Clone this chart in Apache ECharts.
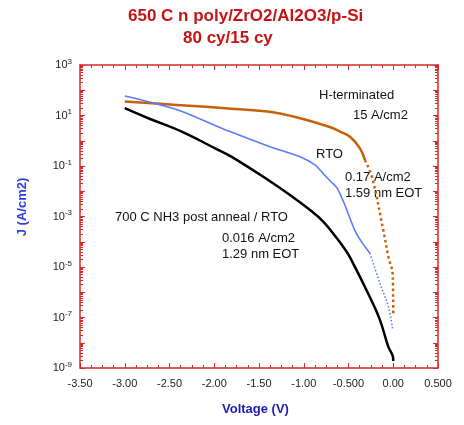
<!DOCTYPE html>
<html>
<head>
<meta charset="utf-8">
<script src="https://cdn.jsdelivr.net/npm/echarts@6/dist/echarts.min.js"></script>
<style>
  html, body { margin: 0; padding: 0; background: #fff; }
  #chart { width: 464px; height: 425px; }
</style>
</head>
<body>
<div id="chart"></div>
<script>
// H-terminated (orange)
const hV = [-3.0, -2.42, -1.77, -1.38, -1.04, -0.71, -0.595, -0.483, -0.372, -0.316, -0.237, -0.111, -0.055, -0.006, 0.0];
const hJ = [35.5, 26.3, 18.2, 14.1, 7.8, 3.5, 2.3, 1.45, 0.5, 0.17, 0.036, 2.9e-4, 2.6e-5, 4.8e-6, 1.3e-7];
const hTail = 9;

// RTO (blue)
const rV = [-3.0, -2.737, -2.44, -2.178, -1.824, -1.377, -1.042, -0.874, -0.818, -0.707, -0.632, -0.595, -0.539, -0.502, -0.408, -0.26, -0.148, -0.055, -0.006];
const rJ = [59, 35, 18, 7.8, 2.3, 0.58, 0.23, 0.11, 0.069, 0.026, 0.014, 7.9e-3, 2.8e-3, 1.26e-3, 2.0e-4, 3.5e-5, 2.2e-6, 2.7e-7, 3.2e-8];
const rTail = 15;

// 700 C NH3 post anneal / RTO (black)
const nV = [-3.0, -2.737, -2.364, -1.99, -1.805, -1.377, -1.154, -0.93, -0.782, -0.632, -0.539, -0.483, -0.26, -0.148, -0.055, -0.006, 0.0];
const nJ = [19.5, 7.8, 2.3, 0.5, 0.23, 0.025, 7.1e-3, 1.8e-3, 6.3e-4, 1.4e-4, 5.0e-5, 2.4e-5, 6.3e-7, 7.9e-8, 6.9e-9, 3.0e-9, 1.9e-9];

const notes = [
  ["H-terminated", 319, 95],
  ["15 A/cm2", 353, 115],
  ["RTO", 316, 154],
  ["0.17 A/cm2", 345, 177],
  ["1.59 nm EOT", 345, 193],
  ["700 C NH3 post anneal / RTO", 115, 217],
  ["0.016 A/cm2", 222, 238],
  ["1.29 nm EOT", 222, 254]
];

const red = "#d42a2a";
const font = "Liberation Sans, Arial, sans-serif";

function pairs(v, j, a, b) {
  return v.slice(a, b).map((x, i) => [x, j.slice(a, b)[i]]);
}

function xAxisCfg(pos, showLabels) {
  return {
    type: "value", position: pos, min: -3.5, max: 0.5, interval: 0.5,
    axisLine: { show: true, onZero: false, lineStyle: { color: red, width: 1.5 } },
    axisTick: { show: true, inside: true, length: 5, lineStyle: { color: red } },
    minorTick: { show: true, splitNumber: 4, length: 3, lineStyle: { color: red } },
    splitLine: { show: false },
    axisLabel: {
      show: showLabels, color: "#222", fontSize: 11, fontFamily: font, margin: 10,
      formatter: v => v === 0 ? "0.00" : (Math.abs(v) < 1 ? v.toFixed(3) : v.toFixed(2))
    }
  };
}

function yAxisCfg(pos, showLabels) {
  return {
    type: "log", logBase: 10, position: pos, min: 1e-9, max: 1e3, interval: 1,
    axisLine: { show: true, onZero: false, lineStyle: { color: red, width: 1.5 } },
    axisTick: { show: true, inside: true, length: 5, lineStyle: { color: red } },
    minorTick: { show: true, splitNumber: 9, length: 3, lineStyle: { color: red } },
    splitLine: { show: false },
    axisLabel: {
      show: showLabels, fontFamily: font, margin: 8,
      formatter: v => {
        const e = Math.round(Math.log10(v));
        return (e % 2 !== 0) ? "{b|10}{s|" + e + "}" : "";
      },
      rich: {
        b: { fontSize: 11, color: "#222", fontFamily: font },
        s: { fontSize: 8, color: "#222", fontFamily: font, padding: [0, 0, 7, 0] }
      }
    }
  };
}

const line = { type: "line", smooth: 0.4, showSymbol: false };

const chart = echarts.init(document.getElementById("chart"));
chart.setOption({
  backgroundColor: "#fff",
  animation: false,
  grid: { left: 80, right: 26, top: 65, bottom: 57 },
  xAxis: [xAxisCfg("bottom", true), xAxisCfg("top", false)],
  yAxis: [yAxisCfg("left", true), yAxisCfg("right", false)],
  series: [
    Object.assign({}, line, { data: pairs(hV, hJ, 0, hTail + 1),
      lineStyle: { color: "#c8600a", width: 2.5 } }),
    Object.assign({}, line, { data: pairs(hV, hJ, hTail, hV.length),
      lineStyle: { color: "#c8600a", width: 2.5, type: [2.5, 3] } }),
    Object.assign({}, line, { data: pairs(rV, rJ, 0, rTail + 1),
      lineStyle: { color: "#5b7cf5", width: 1.6 } }),
    Object.assign({}, line, { data: pairs(rV, rJ, rTail, rV.length),
      lineStyle: { color: "#5b7cf5", width: 1.6, type: [1.5, 2] } }),
    Object.assign({}, line, { data: pairs(nV, nJ, 0, nV.length),
      lineStyle: { color: "#000", width: 2.5 } })
  ],
  graphic: [
    { type: "text", left: 128, top: 8, style: { text: "650 C n poly/ZrO2/Al2O3/p-Si", font: "bold 17px " + font, fill: "#c41414" } },
    { type: "text", left: 183, top: 30, style: { text: "80 cy/15 cy", font: "bold 17px " + font, fill: "#c41414" } },
    { type: "text", left: 222, top: 403, style: { text: "Voltage (V)", font: "bold 13px " + font, fill: "#1c1cb0" } },
    { type: "text", x: 22, y: 207, rotation: Math.PI / 2,
      style: { text: "J (A/cm2)", font: "bold 13px " + font, fill: "#2b3fe0", align: "center", verticalAlign: "middle" } }
  ].concat(notes.map(n => ({
    type: "text", x: n[1], y: n[2],
    style: { text: n[0], font: "13px " + font, fill: "#111", verticalAlign: "middle" }
  })))
});
</script>
</body>
</html>
